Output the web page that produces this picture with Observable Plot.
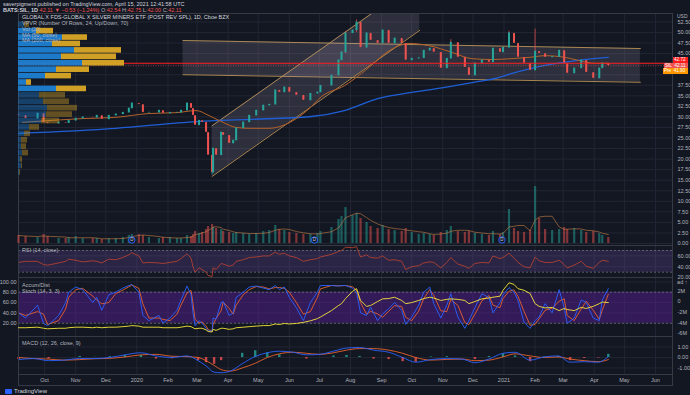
<!DOCTYPE html>
<html><head><meta charset="utf-8">
<script src="https://cdn.jsdelivr.net/npm/d3@7"></script>
<script src="https://cdn.jsdelivr.net/npm/@observablehq/plot@0.6"></script>
<style>
body{margin:0;background:#131722;}
#root{position:relative;width:690px;height:395px;background:#131722;overflow:hidden;font-family:"Liberation Sans",Arial,sans-serif;color:#b2b5be;}
.t{position:absolute;font-size:5.5px;white-space:nowrap;line-height:7px;}
.lbl{position:absolute;height:5.5px;font-size:4.6px;line-height:5.5px;color:#fff;white-space:nowrap;padding:0 1px;box-sizing:border-box;}
</style></head><body><div id="root"></div><script>
// ---------- DATA ----------
const dates = ["2019-09-05","2019-09-12","2019-09-24","2019-09-30","2019-10-04","2019-10-15","2019-10-22","2019-10-25","2019-11-01","2019-11-08","2019-11-18","2019-11-22","2019-11-27","2019-12-04","2019-12-11","2019-12-18","2019-12-24","2019-12-27","2020-01-03","2020-01-07","2020-01-13","2020-01-23","2020-01-27","2020-02-03","2020-02-10","2020-02-14","2020-02-20","2020-02-24","2020-02-26","2020-02-28","2020-03-03","2020-03-06","2020-03-10","2020-03-12","2020-03-16","2020-03-17","2020-03-20","2020-03-25","2020-03-27","2020-04-02","2020-04-06","2020-04-09","2020-04-16","2020-04-22","2020-04-29","2020-05-06","2020-05-12","2020-05-18","2020-05-22","2020-05-27","2020-06-01","2020-06-08","2020-06-15","2020-06-22","2020-06-29","2020-07-02","2020-07-13","2020-07-20","2020-07-23","2020-07-27","2020-08-03","2020-08-07","2020-08-11","2020-08-17","2020-08-21","2020-08-28","2020-09-02","2020-09-08","2020-09-14","2020-09-21","2020-09-25","2020-10-01","2020-10-08","2020-10-13","2020-10-19","2020-10-23","2020-10-30","2020-11-05","2020-11-09","2020-11-16","2020-11-23","2020-11-27","2020-12-03","2020-12-10","2020-12-17","2020-12-21","2020-12-28","2020-12-31","2021-01-06","2021-01-11","2021-01-15","2021-01-21","2021-01-27","2021-02-01","2021-02-05","2021-02-11","2021-02-18","2021-02-25","2021-03-02","2021-03-05","2021-03-12","2021-03-19","2021-03-24","2021-03-31","2021-04-06","2021-04-09","2021-04-15"];
const close = [30.3,29.6,30.8,28.7, 28.4,28.7,28.5,29.1, 29.6,29.9,29.8,30.3,29.4, 30.3,30.6,31.0,32.0,33.2, 32.9,31.0,31.0,31.5,30.8, 31.0,31.0,31.5,33.2,32.0,30.3,28.0, 29.1,28.7,26.3,20.9,16.8,22.5,20.9,26.3,25.6, 23.7,24.4,27.3,28.7,30.3,31.5, 32.7,32.9,36.3,35.8,37.0, 35.8,35.1,33.9,35.5,35.8, 37.4,39.8,43.4,45.3,49.8, 50.5,52.4,46.4,49.8,48.1,47.4, 50.5,47.4,48.6,47.4,43.4, 43.8,43.9,45.7,46.2,45.3,41.5, 43.8,47.6,44.1,41.7,39.8, 42.7,43.4,42.9,46.2,45.3,46.4, 49.8,47.4,44.1,42.7,41.0, 45.5,45.0,44.1,44.2,45.7, 42.7,40.3,41.5,43.4,40.5,39.1, 41.5,42.7,42.11];
const firstOpen = 30.6;
const volume = [0.8,0.7,0.6,0.9, 0.7,0.5,0.5,0.6, 0.7,0.5,0.5,0.5,0.4, 0.5,0.5,0.6,0.8,0.9, 0.9,0.8,0.6,0.5,0.6, 0.6,0.5,0.5,0.8,0.7,0.9,1.2, 1.0,1.1,1.4,1.7,1.9,1.6,1.5,1.4,1.2, 1.1,1.0,1.1,1.0,0.9,1.0, 1.2,1.3,1.8,1.4,1.3, 1.1,1.0,0.9,0.9,1.0, 1.2,1.6,2.4,2.7,3.6, 2.8,3.0,2.5,2.1,1.7,1.5, 1.8,1.4,1.3,1.2,1.5, 1.1,0.9,1.0,0.9,0.8,1.1, 1.3,1.7,1.2,1.1,1.2, 1.0,0.9,0.8,1.2,0.9,1.1, 3.4,1.5,1.2,1.1,1.3, 5.7,2.5,1.4,1.3,1.4, 1.6,1.4,1.5,1.3,1.1,1.2, 1.0,0.8,0.6];
const rsi = [48,50,50,44, 43,47,50,54, 52,49,51,50,47, 54,53,57,62,66, 60,47,48,47,46, 48,50,55,64,56,40,30, 38,35,30,24,22,38,35,46,45, 41,43,50,53,57,58, 60,60,67,63,65, 60,57,50,53,55, 58,63,68,70,76, 75,77,58,62,57,56, 60,52,53,50,35, 40,42,47,49,48,38, 48,57,45,41,37, 46,48,47,60,55,57, 65,56,48,40,38, 58,51,48,48,52, 44,38,43,50,41,37, 48,52,50];
const stochK = [40,30,55,20, 15,35,60,80, 90,85,60,70,45, 75,80,88,93,95, 80,35,25,35,20, 30,45,65,92,75,40,15, 25,20,10,5,5,30,28,60,62, 35,40,70,80,90,92, 88,85,93,85,90, 70,50,25,60,80, 93,93,92,93,93, 88,80,40,35,51,25, 38,48,60,45,18, 32,55,80,90,58,30, 55,77,32,10,25, 50,77,70,40,60,75, 89,80,64,22,10, 25,32,58,40,85, 50,20,30,65,60,30, 25,65,87];
const accDist = [-4.9,-4.9,-4.8,-5.0, -5.1,-5.0,-5.0,-4.9, -4.8,-4.8,-4.9,-4.8,-4.9, -4.8,-4.8,-4.7,-4.6,-4.5, -4.6,-4.8,-4.8,-4.8,-4.9, -4.9,-4.9,-4.8,-4.6,-4.7,-4.9,-5.1, -5.0,-5.0,-5.3,-5.6,-5.7,-5.2,-5.4,-5.0,-5.0, -5.2,-5.1,-4.9,-4.8,-4.7,-4.6, -4.5,-4.5,-4.2,-4.3,-4.1, -4.2,-4.1,-3.9,-3.6,-3.2, -2.9,-1.7,-0.75,-0.4,0.55, 1.9,2.4,0.2,-0.9,-0.75,0, 0.5,0.55,0.8,0.2,-0.4, -0.2,0.2,0.55,0.8,0.65,0.2, 0.4,0.5,0.4,0.2,-0.4, 0,0.5,0.65,0.8,1.0,2.1, 3.5,3.2,2.4,2.1,1.5, -0.4,-0.9,-1.2,-1.1,-1.7, -1.3,-1.5,-1.7,-1.1,-1.3,-0.9, -0.4,-0.1,-0.2];

const wickDates = ["2020-08-07","2021-02-01","2020-03-16","2021-01-06","2020-11-09","2020-07-27"];
const wickLo = [50.0,44.8,16.3,47.0,44.5,45.0];
const wickHi = [53.0,50.8,20.5,50.3,48.3,50.2];

const ma50Dates = ["2019-09-09","2019-11-08","2019-12-11","2020-01-13","2020-02-09","2020-02-29","2020-03-13","2020-03-27","2020-04-09","2020-04-22","2020-05-12","2020-05-26","2020-06-08","2020-06-21","2020-07-03","2020-07-26","2020-08-12","2020-09-14","2020-09-28","2020-10-18","2020-11-10","2020-11-30","2020-12-20","2021-01-09","2021-01-26","2021-02-11","2021-03-03","2021-03-16","2021-04-01","2021-04-15"];
const ma50 = [28.7,29.6,29.9,30.8,31.0,31.5,30.3,28.7,27.5,27.3,27.3,28.0,29.6,32.0,34.8,37.4,40.3,46.4,47.4,46.9,45.3,43.8,43.6,43.8,44.1,44.5,44.1,43.4,42.7,42.7];
const ma200Dates = ["2019-09-05","2019-12-11","2020-03-01","2020-04-22","2020-06-23","2020-07-26","2020-08-29","2020-10-01","2020-11-03","2020-12-07","2020-12-23","2021-01-09","2021-02-11","2021-03-16","2021-04-15"];
const ma200 = [26.1,27.3,28.9,29.4,30.1,31.5,34.4,35.8,37.0,38.4,39.1,40.3,42.2,43.4,44.1];

const macdDates = ["2019-09-05","2019-09-20","2019-10-05","2019-10-20","2019-11-05","2019-11-20","2019-12-05","2019-12-20","2020-01-05","2020-01-20","2020-02-05","2020-02-20","2020-03-02","2020-03-10","2020-03-18","2020-03-25","2020-04-03","2020-04-15","2020-04-28","2020-05-10","2020-05-22","2020-06-05","2020-06-18","2020-07-01","2020-07-15","2020-07-28","2020-08-10","2020-08-24","2020-09-08","2020-09-22","2020-10-05","2020-10-20","2020-11-05","2020-11-20","2020-12-03","2020-12-17","2020-12-31","2021-01-12","2021-01-27","2021-02-10","2021-02-24","2021-03-08","2021-03-22","2021-04-05","2021-04-15"];
const macdLine = [-0.2,-0.1,-0.3,-0.25,-0.1,-0.1,0.0,0.25,0.45,0.15,0.0,0.15,-0.3,-0.8,-1.4,-1.45,-1.3,-0.6,0.1,0.45,0.6,0.5,0.25,0.3,0.6,0.9,0.95,0.7,0.5,0.0,-0.45,-0.2,-0.1,-0.15,-0.5,-0.15,0.4,0.5,-0.25,0.05,0.15,-0.45,-0.4,-0.45,0.1];
const macdSignal = [0.0,-0.1,-0.15,-0.25,-0.2,-0.12,-0.08,0.05,0.25,0.3,0.12,0.08,0.0,-0.3,-0.75,-1.15,-1.3,-1.0,-0.55,0.0,0.35,0.5,0.4,0.3,0.45,0.7,0.85,0.85,0.7,0.4,0.0,-0.25,-0.18,-0.15,-0.3,-0.25,0.05,0.35,0.15,0.0,0.05,-0.15,-0.3,-0.4,-0.2];
const macdHist = [-0.2,0.0,-0.15,0.0,0.1,0.02,0.08,0.2,0.2,-0.15,-0.12,0.07,-0.3,-0.5,-0.65,-0.3,0.0,0.4,0.65,0.45,0.25,0.0,-0.15,0.0,0.15,0.2,0.1,-0.15,-0.2,-0.4,-0.45,0.05,0.08,0.0,-0.2,0.1,0.35,0.15,-0.4,0.05,0.1,-0.3,-0.1,-0.05,0.3];

const divDates = ["2019-12-27","2020-06-26","2020-12-30"];

const vpEdges = [52.6,51.08,49.56,48.04,46.52,45.0,43.47,41.95,40.43,38.91,37.39,35.87,34.35,32.83,31.31,29.79,28.27,26.75,25.23,23.71,22.19,20.67,19.15,17.63,16.1];
const vpUp =   [6,18,44,34,56,43,64,38,27,8,38,21,25,29,28,23,11,6,3,3,4,2,3,1];
const vpDown = [5,17,25,28,47,55,42,33,26,5,30,26,26,30,26,18,10,6,6,5,6,2,1,1];
const vpValueArea = [1,10];

const channelUp = [{date:"2020-03-16", lo:15.9, hi:27.9},{date:"2020-10-09", lo:50.5, hi:62.5}];
const channelFlat = [{date:"2020-02-16", lo:40.0, hi:48.1},{date:"2021-05-17", lo:38.2, hi:46.2}];
const redLevel = 42.72;
const lastPrice = 42.11;
const prePrice = 41.90;

const priceTicks = [0,2.5,5,7.5,10,12.5,15,17.5,20,22.5,25,27.5,30,32.5,35,37.5,40,42.5,45,47.5,50,52.5];
const priceTickLabels = [0,2.5,5,7.5,10,12.5,15,17.5,20,22.5,25,27.5,30,32.5,35,37.5,45,47.5,50,52.5];
const rsiTicks = [20,40,60];
const rsiBand = [30,70];
const stochTicks = [20,40,60,80,100];
const stochBand = [20,80];
const adTicks = [2,0,-2,-4,-6];
const macdTicks = [-1,0,1];
const monthTicks = ["2019-10-01","2019-11-01","2019-12-01","2020-01-01","2020-02-01","2020-03-01","2020-04-01","2020-05-01","2020-06-01","2020-07-01","2020-08-01","2020-09-01","2020-10-01","2020-11-01","2020-12-01","2021-01-01","2021-02-01","2021-03-01","2021-04-01","2021-05-01","2021-06-01"];
const monthLabels = ["Oct","Nov","Dec","2020","Feb","Mar","Apr","May","Jun","Jul","Aug","Sep","Oct","Nov","Dec","2021","Feb","Mar","Apr","May","Jun"];

// ---------- BUILD ----------
const P = d3.utcParse("%Y-%m-%d");
const root = document.getElementById("root");
const X_DOMAIN = [P("2019-09-05"), P("2021-06-18")];
const TEXT = "#b2b5be", GRID = "#222633", BORDER = "#363a45";
const UP = "#26a69a", DOWN = "#ef5350";

const bars = dates.map((d, i) => {
  const open = i ? close[i-1] : firstOpen;
  return {date: P(d), open, close: close[i], vol: volume[i], rsi: rsi[i], k: stochK[i], ad: accDist[i], up: close[i] >= open};
});
const wicks = wickDates.map((d, i) => ({date: P(d), lo: wickLo[i], hi: wickHi[i]}));
const ma50d = ma50Dates.map((d, i) => ({date: P(d), v: ma50[i]}));
const ma200d = ma200Dates.map((d, i) => ({date: P(d), v: ma200[i]}));
const macd = macdDates.map((d, i) => ({date: P(d), m: macdLine[i], s: macdSignal[i], h: macdHist[i]}));
const months = monthTicks.map((d, i) => ({date: P(d), label: monthLabels[i]}));
const monthDates = months.map(m => m.date);
const ch1 = channelUp.map(d => ({...d, date: P(d.date)}));
const ch2 = channelFlat.map(d => ({...d, date: P(d.date)}));
const band = (lo, hi) => X_DOMAIN.map(date => ({date, lo, hi}));

function pane(top, height, y, marks, xopt) {
  const svg = Plot.plot({
    width: 690, height, marginLeft: 18, marginRight: 18, marginTop: 0, marginBottom: 0,
    x: xopt || {type: "utc", domain: X_DOMAIN, axis: null},
    y,
    style: {background: "transparent", color: TEXT, fontSize: "5.5px", fontFamily: "Liberation Sans, Arial, sans-serif", overflow: "visible"},
    marks
  });
  svg.style.position = "absolute"; svg.style.left = "0px"; svg.style.top = top + "px";
  root.appendChild(svg);
  return svg;
}
const gridX = () => Plot.gridX(monthDates, {stroke: GRID, strokeOpacity: 1});

// main price pane
const main = pane(13, 232, {domain: [-0.47, 54.5]}, [
  Plot.gridY(priceTicks, {stroke: GRID, strokeOpacity: 1}),
  gridX(),
  Plot.areaY(ch2, {x: "date", y1: "lo", y2: "hi", fill: "#b8a9c4", fillOpacity: 0.17, clip: true}),
  Plot.line(ch2, {x: "date", y: "lo", stroke: "#b89256", strokeWidth: 0.9, clip: true}),
  Plot.line(ch2, {x: "date", y: "hi", stroke: "#b89256", strokeWidth: 0.9, clip: true}),
  Plot.areaY(ch1, {x: "date", y1: "lo", y2: "hi", fill: "#b8a9c4", fillOpacity: 0.17, clip: true}),
  Plot.line(ch1, {x: "date", y: "lo", stroke: "#b89256", strokeWidth: 0.9, clip: true}),
  Plot.line(ch1, {x: "date", y: "hi", stroke: "#b89256", strokeWidth: 0.9, clip: true}),
  Plot.line(ma200d, {x: "date", y: "v", stroke: "#1f5fd6", strokeWidth: 1.3, curve: "monotone-x"}),
  Plot.line(ma50d, {x: "date", y: "v", stroke: "#b5622a", strokeWidth: 1, curve: "monotone-x"}),
  Plot.ruleX(wicks, {x: "date", y1: "lo", y2: "hi", stroke: d => d.lo > 40 ? DOWN : UP, strokeWidth: 0.7}),
  Plot.ruleX(bars, {x: "date", y1: "open", y2: "close", stroke: d => d.up ? UP : DOWN, strokeWidth: 0.7}),
  Plot.ruleX(bars, {x: "date", y1: "open", y2: "close", stroke: d => d.up ? UP : DOWN, strokeWidth: 2, insetTop: 0.3, insetBottom: 0.3}),
  Plot.ruleY([redLevel], {stroke: "#ff1e1e", strokeWidth: 1.1}),
  Plot.ruleY([lastPrice], {stroke: "#ef5350", strokeWidth: 0.6, strokeDasharray: "1,1.5"}),
  Plot.axisY(priceTickLabels, {anchor: "right", tickSize: 0, tickPadding: 5, tickFormat: d => d.toFixed(2)}),
  Plot.frame({stroke: BORDER})
]);

// volume overlay
pane(13, 230, {domain: [0, 23], axis: null}, [
  Plot.ruleX(bars, {x: "date", y1: 0, y2: "vol", stroke: d => d.up ? UP : DOWN, strokeOpacity: 0.5, strokeWidth: 2.2}),
  Plot.line(bars, Plot.windowY({k: 4, anchor: "end"}, {x: "date", y: "vol", stroke: "#c07a45", strokeWidth: 0.7, strokeOpacity: 0.9})),
  Plot.dot(divDates.map(P), {x: d => d, y: 0.35, r: 3.2, fill: "#131722", stroke: "#2962ff", strokeWidth: 1}),
  Plot.text(divDates.map(P), {x: d => d, y: 0.35, text: () => "D", fill: "#d1d4dc", fontSize: 4.5})
]);

// VPVR overlay
const vpRows = vpUp.map((u, i) => ({top: vpEdges[i], bot: vpEdges[i+1], up: u, down: vpDown[i], va: i >= vpValueArea[0] && i <= vpValueArea[1]}));
pane(13, 232, {domain: [-0.47, 54.5], axis: null}, [
  Plot.rect(vpRows, {x1: 0, x2: "up", y1: "bot", y2: "top", fill: "#1e7fd2", fillOpacity: d => d.va ? 0.95 : 0.4, insetTop: 0.4, insetBottom: 0.4}),
  Plot.rect(vpRows, {x1: "up", x2: d => d.up + d.down, y1: "bot", y2: "top", fill: "#d9a826", fillOpacity: d => d.va ? 0.95 : 0.4, insetTop: 0.4, insetBottom: 0.4})
], {domain: [0, 654], axis: null});

// RSI pane
pane(245, 32, {domain: [20.2, 79.2]}, [
  Plot.gridY(rsiTicks, {stroke: GRID, strokeOpacity: 1}),
  gridX(),
  Plot.areaY(band(rsiBand[0], rsiBand[1]), {x: "date", y1: "lo", y2: "hi", fill: "#7e57c2", fillOpacity: 0.22}),
  Plot.ruleY(rsiBand, {stroke: "#787b86", strokeDasharray: "2,2", strokeWidth: 0.7}),
  Plot.line(bars, {x: "date", y: "rsi", stroke: "#c2452f", strokeWidth: 0.8}),
  Plot.axisY(rsiTicks, {anchor: "right", tickSize: 0, tickPadding: 5, tickFormat: d => d.toFixed(2)}),
  Plot.frame({stroke: BORDER})
]);

// Stoch pane
pane(277, 59, {domain: [-5.7, 108.5]}, [
  Plot.gridY(stochTicks, {stroke: GRID, strokeOpacity: 1}),
  gridX(),
  Plot.areaY(band(stochBand[0], stochBand[1]), {x: "date", y1: "lo", y2: "hi", fill: "#6a1fb0", fillOpacity: 0.38}),
  Plot.ruleY(stochBand, {stroke: "#787b86", strokeDasharray: "2,2", strokeWidth: 0.7}),
  Plot.line(bars, Plot.windowY({k: 2, anchor: "end"}, {x: "date", y: "k", stroke: "#e8622c", strokeWidth: 0.9})),
  Plot.line(bars, {x: "date", y: "k", stroke: "#2962ff", strokeWidth: 0.9}),
  Plot.axisY(stochTicks, {anchor: "left", tickSize: 0, tickPadding: 2, tickFormat: d => d.toFixed(2)}),
  Plot.frame({stroke: BORDER})
]);
// Accum/Dist overlay
pane(277, 59, {domain: [-6.54, 4.49]}, [
  Plot.line(bars, {x: "date", y: "ad", stroke: "#f5e53b", strokeWidth: 0.9}),
  Plot.axisY(adTicks, {anchor: "right", tickSize: 0, tickPadding: 5, tickFormat: d => d === 0 ? "0" : d + "M"})
]);

// MACD pane
pane(336, 38, {domain: [-1.62, 2.0]}, [
  Plot.gridY(macdTicks, {stroke: GRID, strokeOpacity: 1}),
  gridX(),
  Plot.ruleX(macd, {x: "date", y1: 0, y2: "h", stroke: d => d.h >= 0 ? UP : DOWN, strokeWidth: 2.4, strokeOpacity: 0.8}),
  Plot.line(macd, {x: "date", y: "s", stroke: "#e8622c", strokeWidth: 0.9, curve: "monotone-x"}),
  Plot.line(macd, {x: "date", y: "m", stroke: "#2962ff", strokeWidth: 0.9, curve: "monotone-x"}),
  Plot.axisY(macdTicks, {anchor: "right", tickSize: 0, tickPadding: 5, tickFormat: d => d.toFixed(2)}),
  Plot.frame({stroke: BORDER})
]);

// time axis
pane(374, 11, {domain: [0, 1], axis: null}, [
  Plot.text(months, {x: "date", text: "label", frameAnchor: "middle", fill: TEXT}),
  Plot.frame({stroke: BORDER})
]);

// ---------- TEXT ----------
function txt(html, left, top, extra) {
  const s = document.createElement("div");
  s.className = "t"; s.innerHTML = html; s.style.left = left + "px"; s.style.top = top + "px";
  if (extra) Object.assign(s.style, extra);
  root.appendChild(s);
}
txt("saverpigment published on TradingView.com, April 15, 2021 12:41:58 UTC", 3, 0.5, {color: "#d1d4dc"});
const R = "#ef5350";
txt(`<b style="color:#d1d4dc">BATS:SIL, 1D</b> <span style="color:${R}">42.11 ▼ −0.53 (−1.24%)</span> O:<span style="color:${R}">42.54</span> H:<span style="color:${R}">42.75</span> L:<span style="color:${R}">42.00</span> C:<span style="color:${R}">42.11</span>`, 3, 7);
txt("GLOBAL X FDS-GLOBAL X SILVER MINERS ETF (POST REV SPL), 1D, Cboe BZX", 22, 14, {color: "#d1d4dc"});
txt("VPVR (Number Of Rows, 24, Up/Down, 70)", 22, 20);
txt("Vol (20)", 22, 26);
txt("MA (50, close)", 22, 31.5);
txt("MA (200, close)", 22, 37);
txt("RSI (14, close)", 22, 247);
txt("Accum/Dist", 22, 282);
txt("Stoch (14, 3, 3)", 22, 287.5);
txt("MACD (12, 26, close, 9)", 22, 340);
txt("USD", 677, 13, {fontSize: "5px"});
txt("TradingView", 14, 387.5, {fontSize: "6px", color: "#d1d4dc"});
const logo = document.createElement("div");
Object.assign(logo.style, {position: "absolute", left: "5px", top: "388.5px", width: "7px", height: "5px", background: "#2962ff", borderRadius: "1px"});
root.appendChild(logo);

// price tags on the right scale (positioned through the plot's y scale)
const ys = main.scale("y");
const H = 5.5;
const pinkTop = 13 + ys.apply(lastPrice) - H / 2;
const redTop = Math.min(13 + ys.apply(redLevel) - H / 2, pinkTop - H);
const preTop = Math.max(13 + ys.apply(prePrice) - H / 2, pinkTop + H);
function tag(top, left, html, bg) {
  const d = document.createElement("div");
  d.className = "lbl"; d.innerHTML = html; d.style.top = top + "px"; d.style.left = left + "px"; d.style.background = bg;
  d.style.width = (688 - left) + "px";
  root.appendChild(d);
}
tag(redTop, 673, redLevel.toFixed(2), "#ff1e1e");
tag(pinkTop, 664, `SIL&nbsp;&nbsp;${lastPrice.toFixed(2)}`, "#ef5350");
tag(preTop, 663, `Pre&nbsp;&nbsp;${prePrice.toFixed(2)}`, "#ff9800");
</script></body></html>
